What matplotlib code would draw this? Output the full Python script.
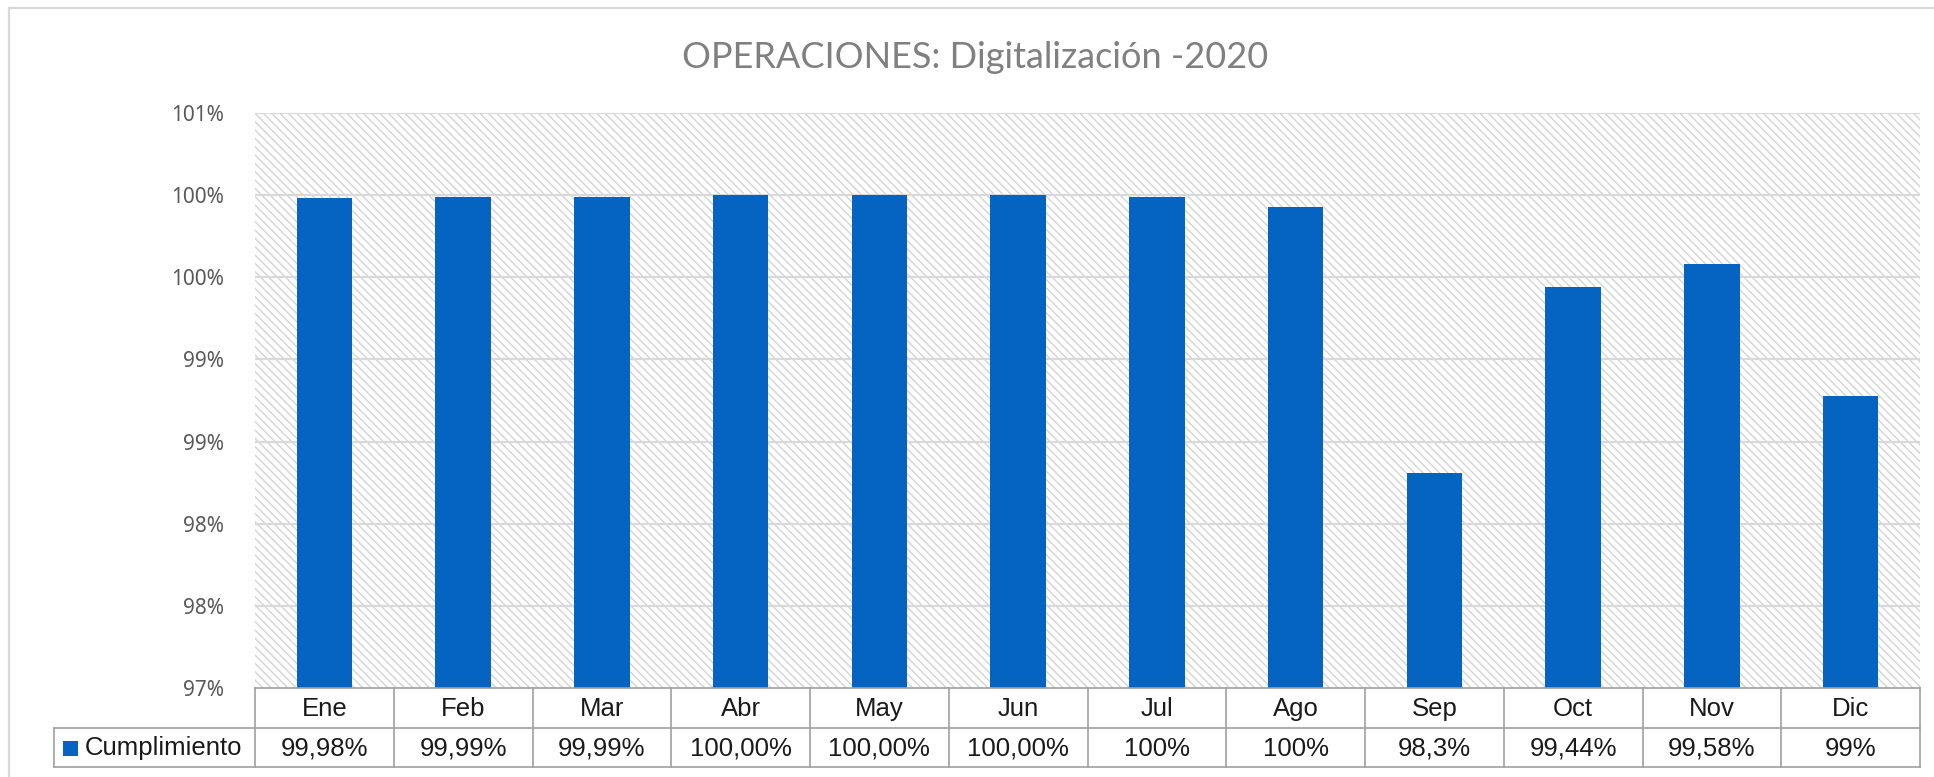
import matplotlib
matplotlib.use("Agg")
import matplotlib.pyplot as plt
import matplotlib.transforms as mtransforms
from matplotlib.patches import Rectangle
import numpy as np

# data
meses = ['Ene', 'Feb', 'Mar', 'Abr', 'May', 'Jun', 'Jul', 'Ago', 'Sep', 'Oct', 'Nov', 'Dic']
cumplimiento = [99.98, 99.99, 99.99, 100.00, 100.00, 100.00, 99.99, 99.93, 98.31, 99.44, 99.58, 98.78]
etiquetas = ['99,98%', '99,99%', '99,99%', '100,00%', '100,00%', '100,00%',
             '100%', '100%', '98,3%', '99,44%', '99,58%', '99%']
serie = 'Cumplimiento'
titulo = 'OPERACIONES: Digitalización -2020'
yticks = [97.0, 97.5, 98.0, 98.5, 99.0, 99.5, 100.0, 100.5]
ytick_labels = ['97%', '98%', '98%', '99%', '99%', '100%', '100%', '101%']

azul = '#0563C1'
gris_tabla = '#a0a0a0'

W, H = 1934, 777
plt.rcParams['hatch.linewidth'] = 1.0

fig = plt.figure(figsize=(W / 100, H / 100), dpi=100)

# overlay in pixel coords for the frame / table
ov = fig.add_axes([0, 0, 1, 1], zorder=5)
ov.set_xlim(0, W)
ov.set_ylim(H, 0)
ov.axis('off')

L, R, T, B = 255, 1920, 113, 688
ax = fig.add_axes([L / W, 1 - B / H, (R - L) / W, (B - T) / H], zorder=2)

x = np.arange(len(meses))
ax.add_patch(Rectangle((0, 0), 1, 1, transform=ax.transAxes, facecolor='white',
                       edgecolor='#d4d4d4', hatch='\\\\\\\\', lw=0, zorder=0))
ax.bar(x, cumplimiento, width=0.4, color=azul, zorder=3)
ax.set_xlim(-0.5, len(meses) - 0.5)
ax.set_ylim(yticks[0], yticks[-1])
ax.set_yticks(yticks)
ax.set_yticklabels(ytick_labels, fontsize=15, color='#595959', family='Noto Sans')
ax.tick_params(axis='y', length=0, pad=22)
ax.set_xticks([])
for y in yticks[1:]:
    ax.axhline(y, color='#d9d9d9', lw=1.6, zorder=1)
for s in ax.spines.values():
    s.set_visible(False)

# title
fig.text(975 / W, 1 - 57 / H, titulo, ha='center', va='center', fontsize=26,
         color='#808080', family='Lato')

# outer frame (left + top)
ov.plot([9, 9], [8, H], color='#d9d9d9', lw=1.6)
ov.plot([9, W], [8, 8], color='#d9d9d9', lw=1.6)

# data table under the axis
tr = mtransforms.blended_transform_factory(ax.transData, ov.transData)
r0, r1, r2 = 688, 728, 767
xl = 54
n = len(meses)
ov.plot([L, R], [r0, r0], color=gris_tabla, lw=1.2)
ov.plot([xl, R], [r1, r1], color=gris_tabla, lw=1.2)
ov.plot([xl, R], [r2, r2], color=gris_tabla, lw=1.2)
ov.plot([xl, xl], [r1, r2], color=gris_tabla, lw=1.2)
for i in range(n + 1):
    ov.plot([i - 0.5, i - 0.5], [r0, r2], color=gris_tabla, lw=1.2, transform=tr)
for i, (m, e) in enumerate(zip(meses, etiquetas)):
    ov.text(i, (r0 + r1) / 2 + 1, m, ha='center', va='center', fontsize=18.5,
            family='Liberation Sans', color='#1a1a1a', transform=tr)
    ov.text(i, (r1 + r2) / 2 + 1, e, ha='center', va='center', fontsize=18.5,
            family='Liberation Sans', color='#1a1a1a', transform=tr)
ov.add_patch(Rectangle((63, 741), 15, 15, facecolor=azul, lw=0))
ov.text(85, (r1 + r2) / 2 + 1, serie, ha='left', va='center', fontsize=18.5,
        family='Liberation Sans', color='#1a1a1a')

fig.savefig('out.png', dpi=100, facecolor='white')
